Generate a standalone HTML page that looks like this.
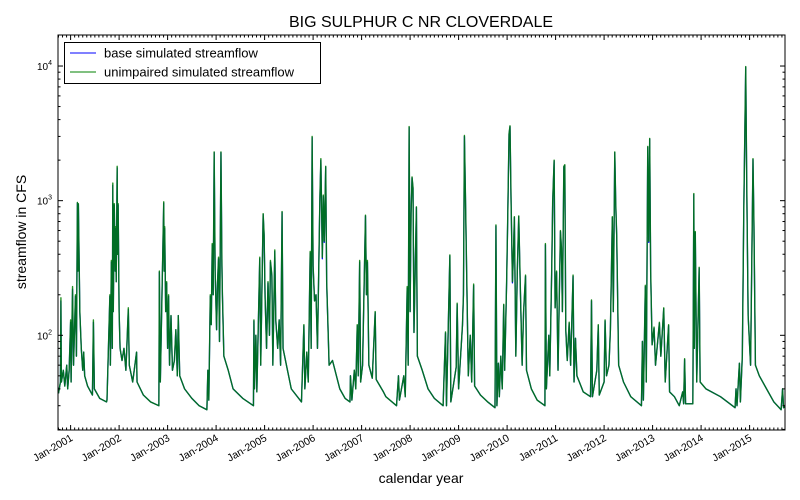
<!DOCTYPE html>
<html><head><meta charset="utf-8"><style>
body{margin:0;background:#fff;}
svg{display:block;font-family:"Liberation Sans","DejaVu Sans",sans-serif;}
</style></head><body>
<svg id="chart" width="800" height="500" viewBox="0 0 800 500">
<rect x="0" y="0" width="800" height="500" fill="#fff"/>
<text x="421" y="27" font-size="16" text-anchor="middle">BIG SULPHUR C NR CLOVERDALE</text>
<text x="0" y="0" font-size="14" text-anchor="middle" transform="translate(26,232) rotate(-90)">streamflow in CFS</text>
<text x="421" y="483" font-size="14" text-anchor="middle">calendar year</text>
<g id="plot"></g>
<g id="axes"></g>
<g>
<rect x="64.5" y="42.5" width="256" height="41" fill="#fff" stroke="#000" stroke-width="1"/>
<line x1="70" y1="53" x2="96" y2="53" stroke="#0000ff" stroke-width="1"/>
<text x="104" y="57.5" font-size="13">base simulated streamflow</text>
<line x1="70" y1="72" x2="96" y2="72" stroke="#008000" stroke-width="1"/>
<text x="104" y="76.5" font-size="13">unimpaired simulated streamflow</text>
</g>
</svg>
<script>
const dates = [
2000.75,2000.79,2000.80,2000.81,2000.85,2000.88,2000.92,2000.94,2000.97,2001.00,2001.01,2001.04,2001.06,2001.10,2001.12,2001.14,2001.15,2001.16,2001.19,2001.22,2001.25,2001.27,2001.29,2001.35,2001.45,2001.47,2001.49,2001.60,2001.74,
2001.75,2001.81,2001.82,2001.84,2001.86,2001.87,2001.88,2001.90,2001.92,2001.93,2001.94,2001.96,2001.97,2001.98,2002.00,2002.02,2002.06,2002.10,2002.14,2002.19,2002.21,2002.28,2002.36,2002.37,2002.50,2002.65,2002.82,
2002.83,2002.85,2002.92,2002.93,2002.94,2002.96,2002.98,2003.00,2003.02,2003.04,2003.07,2003.10,2003.14,2003.17,2003.20,2003.22,2003.25,2003.35,2003.50,2003.65,2003.81,
2003.83,2003.85,2003.88,2003.90,2003.92,2003.94,2003.96,2003.98,2004.01,2004.03,2004.05,2004.07,2004.10,2004.12,2004.13,2004.16,2004.25,2004.35,2004.55,2004.77,
2004.78,2004.79,2004.82,2004.84,2004.90,2004.92,2004.97,2004.99,2005.01,2005.04,2005.07,2005.10,2005.12,2005.15,2005.17,2005.21,2005.23,2005.27,2005.30,2005.33,2005.36,2005.38,2005.45,2005.55,2005.76,
2005.81,2005.83,2005.87,2005.90,2005.94,2005.96,2005.98,2006.00,2006.03,2006.06,2006.09,2006.14,2006.16,2006.19,2006.21,2006.23,2006.26,2006.28,2006.33,2006.40,2006.55,2006.66,2006.76,
2006.77,2006.80,2006.85,2006.88,2006.91,2006.93,2006.96,2006.98,2007.02,2007.08,2007.10,2007.12,2007.15,2007.22,2007.28,2007.30,2007.45,2007.50,2007.72,
2007.76,2007.78,2007.87,2007.90,2007.92,2007.94,2007.96,2007.98,2008.00,2008.02,2008.04,2008.06,2008.08,2008.13,2008.15,2008.25,2008.37,2008.50,2008.68,
2008.73,2008.75,2008.82,2008.84,2008.95,2008.97,2009.00,2009.08,2009.10,2009.12,2009.14,2009.17,2009.20,2009.24,2009.27,2009.31,2009.33,2009.45,2009.60,2009.75,
2009.77,2009.79,2009.82,2009.84,2009.87,2009.90,2009.93,2009.95,2009.99,2010.01,2010.04,2010.06,2010.08,2010.11,2010.13,2010.15,2010.18,2010.21,2010.24,2010.27,2010.31,2010.34,2010.38,2010.40,2010.50,2010.62,2010.78,
2010.79,2010.81,2010.86,2010.88,2010.92,2010.94,2010.97,2010.99,2011.02,2011.05,2011.10,2011.12,2011.14,2011.17,2011.19,2011.21,2011.24,2011.28,2011.31,2011.36,2011.38,2011.41,2011.44,2011.57,2011.72,
2011.74,2011.76,2011.85,2011.88,2011.90,2012.00,2012.02,2012.05,2012.10,2012.13,2012.17,2012.19,2012.22,2012.24,2012.26,2012.30,2012.40,2012.55,2012.77,
2012.79,2012.81,2012.85,2012.87,2012.90,2012.92,2012.94,2012.96,2012.99,2013.03,2013.06,2013.14,2013.17,2013.23,2013.26,2013.33,2013.35,2013.45,2013.55,2013.62,2013.64,2013.66,2013.68,2013.77,
2013.83,2013.85,2013.86,2013.88,2013.91,2013.96,2013.98,2014.10,2014.40,2014.70,
2014.72,2014.74,2014.79,2014.81,2014.85,2014.88,2014.92,2014.94,2014.97,2015.02,2015.07,2015.09,2015.12,2015.20,2015.35,2015.50,2015.65,2015.68,2015.70,2015.75
];
const unimpaired = [
37,45,190,45,55,42,60,40,55,130,45,230,60,200,70,970,300,950,150,80,55,75,50,42,36,130,40,34,32,
33,200,60,360,80,1350,150,950,300,640,250,1800,400,950,150,80,65,80,55,160,60,45,75,45,36,32,30,
300,45,980,300,640,150,250,80,200,60,140,55,65,110,50,140,50,40,34,30,28,
55,33,200,120,480,200,2300,300,110,250,380,90,2300,330,200,70,55,40,34,30,
130,40,100,38,380,60,800,560,190,80,250,100,360,280,60,430,130,80,130,60,830,80,60,40,32,
120,40,75,45,420,80,3000,330,180,200,80,1050,2050,380,1100,500,1800,250,60,65,40,34,32,
50,33,55,40,120,50,360,45,60,780,200,360,60,48,150,47,38,35,30,
50,33,50,35,90,230,60,3550,150,800,1500,1250,105,900,70,55,40,34,30,
106,30,395,32,58,173,40,120,200,3050,1150,240,50,100,45,240,42,36,32,29,
660,30,62,35,70,40,170,55,250,650,3150,3600,1100,250,400,760,70,300,770,250,60,150,280,55,40,33,30,
480,40,100,50,310,1000,2000,160,300,55,600,450,150,1800,1850,110,65,125,60,280,45,95,50,38,35,
183,35,55,120,36,45,130,50,60,110,760,150,2300,950,550,60,45,35,30,
90,33,235,45,2530,500,2900,300,85,115,60,125,70,160,45,120,38,35,30,38,31,67,31,31,
31,1130,80,590,45,320,45,40,35,29,
40,30,62,32,70,850,9900,1450,140,60,2050,650,60,50,40,32,28,40,29,30
];
const base = [
37,45,180,45,55,42,60,40,55,125,45,220,60,195,70,960,300,940,150,80,55,75,50,42,36,125,40,34,32,
33,195,60,350,80,1300,150,930,300,620,250,1750,400,930,150,80,65,80,55,155,60,45,75,45,36,32,30,
295,45,960,300,620,150,245,80,195,60,140,55,65,110,50,140,50,40,34,30,28,
55,33,195,120,470,200,2280,300,110,245,370,90,2280,325,200,70,55,40,34,30,
128,40,100,38,370,60,790,550,190,80,245,100,350,275,60,420,130,80,130,60,820,80,60,40,32,
118,40,75,45,410,80,2950,325,180,200,80,1030,2000,370,1080,490,1780,245,60,65,40,34,32,
50,33,55,40,118,50,350,45,60,770,200,350,60,48,148,47,38,35,30,
50,33,50,35,90,225,60,3500,150,790,1480,1230,105,890,70,55,40,34,30,
104,30,390,32,58,170,40,118,200,3000,1130,235,50,100,45,235,42,36,32,29,
650,30,62,35,70,40,168,55,245,640,3100,3550,1080,245,390,750,70,295,760,245,60,148,275,55,40,33,30,
470,40,100,50,305,980,1980,160,295,55,590,440,150,1780,1830,110,65,123,60,275,45,95,50,38,35,
180,35,55,118,36,45,128,50,60,110,750,150,2280,930,540,60,45,35,30,
90,33,230,45,2500,490,2870,295,85,113,60,123,70,158,45,118,38,35,30,38,31,66,31,31,
31,1110,80,580,45,315,45,40,35,29,
40,30,62,32,70,840,9800,1430,140,60,2020,640,60,50,40,32,28,40,29,30
];
const yearTicks = [2001,2002,2003,2004,2005,2006,2007,2008,2009,2010,2011,2012,2013,2014,2015];
const decadeTicks = [2,3,4];

const NS='http://www.w3.org/2000/svg';
const L=58,R=785,T=35,B=430;
const xMin=2000.74, xMax=2015.73;
const yMin=Math.log10(19.8), yMax=Math.log10(17000);
function xs(t){return L+(t-xMin)/(xMax-xMin)*(R-L);}
function ys(v){return B-(Math.log10(v)-yMin)/(yMax-yMin)*(B-T);}
function mk(tag,attrs,parent){const e=document.createElementNS(NS,tag);for(const k in attrs)e.setAttribute(k,attrs[k]);parent.appendChild(e);return e;}

const plot=document.getElementById('plot');
const axes=document.getElementById('axes');
mk('clipPath',{id:'clip'},plot).appendChild((()=>{const r=document.createElementNS(NS,'rect');r.setAttribute('x',L);r.setAttribute('y',T);r.setAttribute('width',R-L);r.setAttribute('height',B-T);return r;})());

function series(vals,color,op,w){
  let d='';
  for(let i=0;i<dates.length;i++){d+=(i?'L':'M')+xs(dates[i]).toFixed(2)+' '+ys(vals[i]).toFixed(2);}
  return mk('path',{d:d,fill:'none',stroke:color,'stroke-width':w,'stroke-opacity':op,'clip-path':'url(#clip)','stroke-linejoin':'round'},plot);
}
const pb=series(base,'#0000ff',1,1.3);


const pu=series(unimpaired,'#008000',0.85,1.4);



const frame=mk('rect',{x:L,y:T,width:R-L,height:B-T,fill:'none',stroke:'#000','stroke-width':1},axes);



for(let y=2000;y<=2015;y++){
  for(let m=0;m<12;m++){
    const t=y+m/12; if(t<xMin||t>xMax) continue;
    const x=xs(t); const len=m===0?5:2.5;
    mk('line',{x1:x,y1:B,x2:x,y2:B-len,stroke:'#000','stroke-width':1},axes);
    mk('line',{x1:x,y1:T,x2:x,y2:T+len,stroke:'#000','stroke-width':1},axes);
  }
}
yearTicks.forEach(yr=>{
  const x=xs(yr);
  const tx=mk('text',{x:0,y:0,'font-size':10.5,'text-anchor':'end',transform:`translate(${x+3},${B+10}) rotate(-30)`},axes);
  tx.textContent='Jan-'+yr;
  
  
});
for(let e=1;e<=4;e++){
  for(let k=1;k<10;k++){
    const v=k*Math.pow(10,e); if(v<19.8||v>17000) continue;
    const y=ys(v); const len=k===1?5:2.5;
    mk('line',{x1:L,y1:y,x2:L+len,y2:y,stroke:'#000','stroke-width':1},axes);
    mk('line',{x1:R,y1:y,x2:R-len,y2:y,stroke:'#000','stroke-width':1},axes);
  }
}
decadeTicks.forEach(e=>{
  const y=ys(Math.pow(10,e));
  const tx=mk('text',{x:L-6,y:y+4,'font-size':10,'text-anchor':'end'},axes);
  const a=document.createElementNS(NS,'tspan');a.textContent='10';tx.appendChild(a);
  const b=document.createElementNS(NS,'tspan');b.setAttribute('font-size','7');b.setAttribute('dy','-5');b.textContent=String(e);tx.appendChild(b);
  
  
});
</script>
</body></html>
